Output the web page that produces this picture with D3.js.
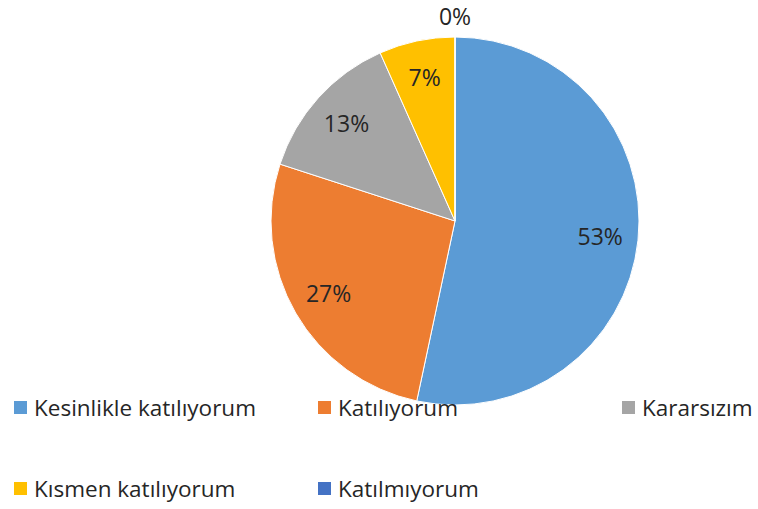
<!DOCTYPE html>
<html>
<head>
<meta charset="utf-8">
<script src="https://cdn.jsdelivr.net/npm/d3@7"></script>
<style>
  body { margin: 0; background: #fff; }
  text { font-family: "Open Sans", "Liberation Sans", sans-serif; }
</style>
</head>
<body>
<div id="chart"></div>
<script>
// Answer categories and counts (8/15 = 53%, etc.)
var categories = ["Kesinlikle katılıyorum", "Katılıyorum", "Kararsızım", "Kısmen katılıyorum", "Katılmıyorum"];
var counts = [8, 4, 2, 1, 0];
var colors = ["#5B9BD5", "#ED7D31", "#A5A5A5", "#FFC000", "#4472C4"];

var w = 758, h = 509;
var cx = 455, cy = 221, radius = 184;

var svg = d3.select("#chart").append("svg")
    .attr("width", w)
    .attr("height", h);

var total = d3.sum(counts);
var data = categories.map(function(c, i) { return { name: c, value: counts[i], color: colors[i] }; });

var pie = d3.pie()
    .value(function(d) { return d.value; })
    .sort(null);

var arcs = pie(data);

var arc = d3.arc().innerRadius(0).outerRadius(radius);
var labelArc = d3.arc().innerRadius(146).outerRadius(146);
var outerLabelArc = d3.arc().innerRadius(204).outerRadius(204);

var g = svg.append("g").attr("transform", "translate(" + cx + "," + cy + ")");

g.selectAll("path")
    .data(arcs)
    .enter()
    .append("path")
    .attr("d", arc)
    .attr("fill", function(d) { return d.data.color; })
    .attr("stroke", "#fff")
    .attr("stroke-width", 1);

g.selectAll("text.lbl")
    .data(arcs)
    .enter()
    .append("text")
    .attr("class", "lbl")
    .attr("transform", function(d) {
        var p = d.data.value === 0 ? outerLabelArc.centroid(d) : labelArc.centroid(d);
        return "translate(" + p + ")";
    })
    .attr("text-anchor", "middle")
    .attr("dy", "0.36em")
    .attr("font-size", "23px")
    .attr("fill", "#262626")
    .text(function(d) { return Math.round(d.data.value / total * 100) + "%"; });

// Legend: two rows
var legendX = [14, 318, 622];
var legendY = [408, 489];

var legend = svg.selectAll("g.legend")
    .data(data)
    .enter()
    .append("g")
    .attr("class", "legend")
    .attr("transform", function(d, i) {
        return "translate(" + legendX[i % 3] + "," + legendY[Math.floor(i / 3)] + ")";
    });

legend.append("rect")
    .attr("x", 0)
    .attr("y", -7)
    .attr("width", 13)
    .attr("height", 13)
    .attr("fill", function(d) { return d.color; });

legend.append("text")
    .attr("x", 20)
    .attr("dy", "0.36em")
    .attr("font-size", "22.5px")
    .attr("fill", "#262626")
    .text(function(d) { return d.name; });
</script>
</body>
</html>
